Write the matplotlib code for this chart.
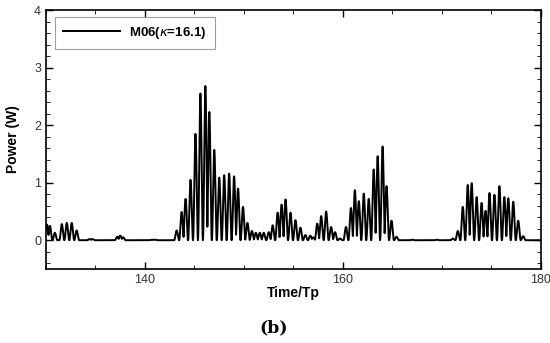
import numpy as np
import matplotlib.pyplot as plt
from matplotlib.ticker import MultipleLocator

# peak times (Time/Tp) and peak power (W)
peak_t = [130.1, 130.4, 130.9, 131.6, 132.1, 132.6, 133.1,
          134.4, 134.7, 137.2, 137.5, 137.8, 140.7, 141.0,
          143.2, 143.7, 144.1, 144.6, 145.1, 145.6, 146.1, 146.5,
          147.0, 147.5, 148.0, 148.5, 149.0, 149.4, 149.9, 150.35,
          150.8, 151.2, 151.6, 152.0, 152.5, 152.9, 153.4, 153.8,
          154.2, 154.7, 155.2, 155.7, 156.2, 156.7, 157.0, 157.4,
          157.8, 158.3, 158.8, 159.2, 159.7, 160.3, 160.8, 161.2,
          161.6, 162.1, 162.6, 163.1, 163.5, 164.0, 164.4, 164.9,
          165.4, 167.0, 169.5, 171.1, 171.6, 172.1, 172.6, 173.0,
          173.5, 174.0, 174.4, 174.8, 175.3, 175.8, 176.3, 176.7,
          177.2, 177.7, 178.2]
peak_p = [0.27, 0.25, 0.13, 0.28, 0.30, 0.30, 0.17,
          0.02, 0.02, 0.06, 0.08, 0.05, 0.01, 0.01,
          0.17, 0.49, 0.72, 1.05, 1.85, 2.55, 2.68, 2.23,
          1.57, 1.09, 1.13, 1.16, 1.11, 0.90, 0.58, 0.30,
          0.16, 0.13, 0.13, 0.13, 0.14, 0.26, 0.48, 0.62,
          0.71, 0.48, 0.35, 0.22, 0.09, 0.08, 0.05, 0.29,
          0.42, 0.50, 0.23, 0.14, 0.03, 0.23, 0.56, 0.87,
          0.68, 0.81, 0.72, 1.23, 1.46, 1.63, 0.94, 0.34,
          0.06, 0.01, 0.01, 0.03, 0.16, 0.58, 0.96, 0.99,
          0.75, 0.65, 0.51, 0.82, 0.79, 0.94, 0.75, 0.73,
          0.67, 0.34, 0.07]

xticks = [140, 160, 180]
yticks = [0, 1, 2, 3, 4]

plt.rcParams['font.family'] = ['Liberation Sans', 'DejaVu Sans']

# build the power trace from the pulses
t = np.linspace(130, 180, 6000)
p = np.zeros_like(t)
w = 0.25
for tk, ak in zip(peak_t, peak_p):
    d = np.abs(t - tk)
    m = d < w
    p[m] = np.maximum(p[m], ak * np.cos(np.pi * d[m] / (2 * w)) ** 2)

fig = plt.figure(figsize=(5.5, 3.43), dpi=100)
ax = fig.add_axes([0.0836, 0.2157, 0.9, 0.7551])
ax.plot(t, p, color='black', lw=1.4, label=r'M06($\kappa$=16.1)')

ax.set_xlim(130, 180)
ax.set_ylim(-0.5, 4)
ax.set_xticks(xticks)
ax.set_yticks(yticks)
ax.xaxis.set_minor_locator(MultipleLocator(5))
ax.yaxis.set_minor_locator(MultipleLocator(0.2))
ax.tick_params(which='both', direction='in', top=True, right=True,
               labelsize=9, labelcolor='#333333')
ax.tick_params(which='major', length=5, width=1)
ax.tick_params(which='minor', length=3, width=0.6)
for s in ax.spines.values():
    s.set_linewidth(1.2)

ax.set_xlabel('Time/Tp', fontsize=10, fontweight='bold', labelpad=0)
ax.set_ylabel('Power (W)', fontsize=10, fontweight='bold', labelpad=10)

leg = ax.legend(loc='upper left', bbox_to_anchor=(0.018, 0.973),
                borderaxespad=0, prop={'weight': 'bold', 'size': 9.5},
                handlelength=4.3, handletextpad=0.75, borderpad=0.6,
                fancybox=False, edgecolor='#888888')
leg.get_frame().set_linewidth(0.8)

fig.text(0.497, 0.045, '(b)', fontsize=12.5, fontweight='bold',
         family='DejaVu Serif', ha='center', va='center')

fig.savefig('out.png', dpi=100)
